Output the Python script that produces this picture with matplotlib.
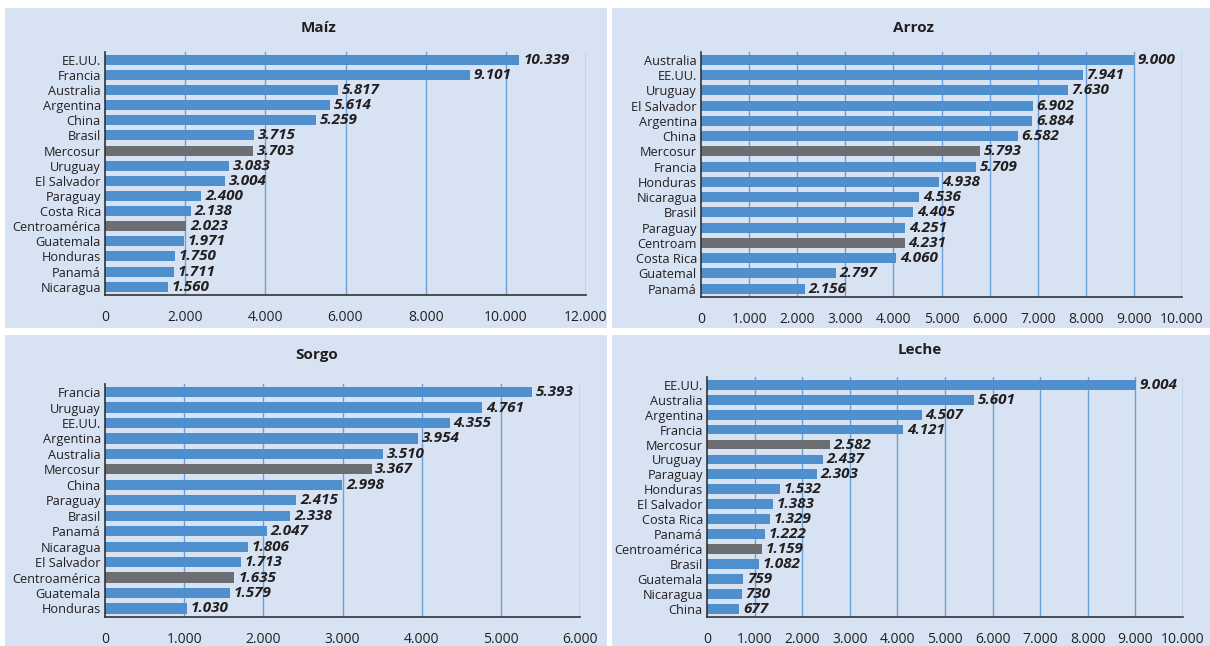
import matplotlib
matplotlib.use("Agg")
import matplotlib.pyplot as plt
from matplotlib.patches import Rectangle

W, H = 1210, 646

maiz_cats = ["EE.UU.", "Francia", "Australia", "Argentina", "China", "Brasil", "Mercosur",
             "Uruguay", "El Salvador", "Paraguay", "Costa Rica", "Centroamérica", "Guatemala",
             "Honduras", "Panamá", "Nicaragua"]
maiz_vals = [10339, 9101, 5817, 5614, 5259, 3715, 3703, 3083, 3004, 2400, 2138, 2023, 1971,
             1750, 1711, 1560]

arroz_cats = ["Australia", "EE.UU.", "Uruguay", "El Salvador", "Argentina", "China", "Mercosur",
              "Francia", "Honduras", "Nicaragua", "Brasil", "Paraguay", "Centroam", "Costa Rica",
              "Guatemal", "Panamá"]
arroz_vals = [9000, 7941, 7630, 6902, 6884, 6582, 5793, 5709, 4938, 4536, 4405, 4251, 4231,
              4060, 2797, 2156]

sorgo_cats = ["Francia", "Uruguay", "EE.UU.", "Argentina", "Australia", "Mercosur", "China",
              "Paraguay", "Brasil", "Panamá", "Nicaragua", "El Salvador", "Centroamérica",
              "Guatemala", "Honduras"]
sorgo_vals = [5393, 4761, 4355, 3954, 3510, 3367, 2998, 2415, 2338, 2047, 1806, 1713, 1635,
              1579, 1030]

leche_cats = ["EE.UU.", "Australia", "Argentina", "Francia", "Mercosur", "Uruguay", "Paraguay",
              "Honduras", "El Salvador", "Costa Rica", "Panamá", "Centroamérica", "Brasil",
              "Guatemala", "Nicaragua", "China"]
leche_vals = [9004, 5601, 4507, 4121, 2582, 2437, 2303, 1532, 1383, 1329, 1222, 1159, 1082,
              759, 730, 677]

aggregates = ["Mercosur", "Centroamérica", "Centroam"]

BG = "#D7E3F3"
BLUE = "#4F8FCD"
GRAY = "#6D6E71"
GRID = "#6A9FD8"
TXT = "#231F20"
FONT = "Open Sans"

plt.rcParams["font.family"] = [FONT, "DejaVu Sans"]

fig = plt.figure(figsize=(W / 100, H / 100), dpi=100)
fig.patch.set_facecolor("white")

# panel backgrounds (pixel boxes: x0, y0, x1, y1)
panels = [(5, 8, 607, 328), (612, 8, 1210, 328), (5, 335, 607, 646), (612, 335, 1210, 646)]
for x0, y0, x1, y1 in panels:
    fig.patches.append(Rectangle((x0 / W, 1 - y1 / H), (x1 - x0) / W, (y1 - y0) / H,
                                 transform=fig.transFigure, facecolor=BG, edgecolor="none",
                                 zorder=-5))


def fmt(v):
    return f"{v:,}".replace(",", ".")


def panel(box, title, title_xy, cats, vals, xmax, step):
    x0, y0, x1, y1 = box
    ax = fig.add_axes([x0 / W, 1 - y1 / H, (x1 - x0) / W, (y1 - y0) / H])
    ax.set_facecolor("none")
    n = len(cats)
    colors = [GRAY if c in aggregates else BLUE for c in cats]
    ax.barh(range(n), vals, height=0.66, color=colors, zorder=3)
    ax.set_ylim(n - 0.45, -0.52)
    ax.set_xlim(0, xmax)
    ticks = list(range(0, xmax + 1, step))
    ax.set_xticks(ticks)
    ax.set_xticklabels([fmt(t) for t in ticks], fontsize=10, color=TXT)
    ax.set_yticks(range(n))
    ax.set_yticklabels(cats, fontsize=9.2, color=TXT)
    ax.tick_params(axis="both", length=0)
    ax.tick_params(axis="x", pad=11)
    ax.tick_params(axis="y", pad=3)
    for t in ticks[1:]:
        ax.axvline(t, color=GRID, lw=1.0, zorder=1)
    for s in ["top", "right"]:
        ax.spines[s].set_visible(False)
    ax.spines["left"].set_color("#333333")
    ax.spines["bottom"].set_color("#333333")
    ax.spines["left"].set_linewidth(1.2)
    ax.spines["bottom"].set_linewidth(1.2)
    ax.spines["left"].set_zorder(4)
    for i, v in enumerate(vals):
        ax.text(v + xmax * 0.008, i, fmt(v), va="center", ha="left", fontsize=11,
                fontweight="bold", fontstyle="italic", color=TXT, zorder=5)
    tx, ty = title_xy
    fig.text(tx / W, 1 - ty / H, title, ha="center", va="center", fontsize=11,
             fontweight="bold", color=TXT)
    return ax


panel((105, 52, 586, 295), "Maíz", (319, 28), maiz_cats, maiz_vals, 12000, 2000)
panel((701, 52, 1182, 297), "Arroz", (914, 28), arroz_cats, arroz_vals, 10000, 1000)
panel((105, 384, 580, 617), "Sorgo", (317, 355), sorgo_cats, sorgo_vals, 6000, 1000)
panel((707, 377, 1183, 617), "Leche", (920, 350), leche_cats, leche_vals, 10000, 1000)

fig.savefig("out.png", dpi=100, facecolor="white")
